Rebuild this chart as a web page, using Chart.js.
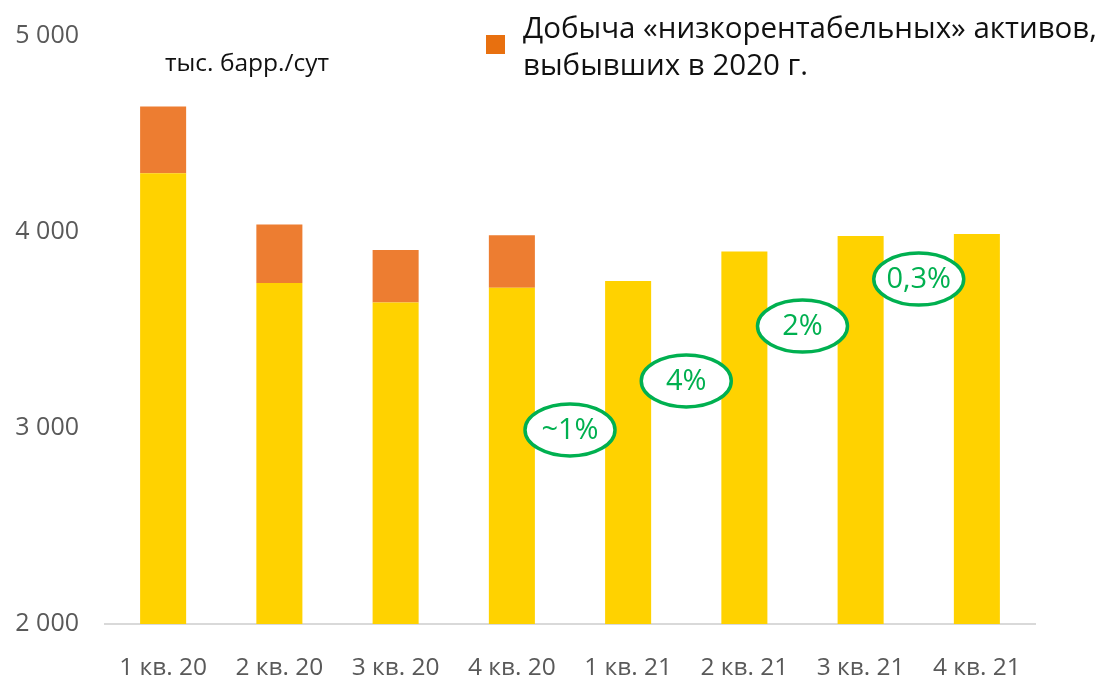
<!DOCTYPE html>
<html lang="ru">
<head>
<meta charset="utf-8">
<script src="https://cdn.jsdelivr.net/npm/chart.js@4/dist/chart.umd.min.js"></script>
<style>
  html, body { margin: 0; padding: 0; background: #fff; }
  #wrap { position: relative; width: 1109px; height: 676px; font-family: "Open Sans", "Noto Sans", sans-serif; }
  #chart { position: absolute; left: 0; top: 0; }
  .unit { position: absolute; left: 165px; top: 44px; font-size: 24.5px; line-height: 36px; color: #111; white-space: nowrap; }
  .legend { position: absolute; left: 486px; top: 8px; }
  .legend .box { position: absolute; left: 0; top: 27px; width: 19px; height: 19px; background: #E8700F; }
  .legend .txt { position: absolute; left: 37px; top: 0; font-size: 29.5px; line-height: 37px; color: #111; white-space: nowrap; }
</style>
</head>
<body>
<div id="wrap">
  <canvas id="chart" width="1109" height="676"></canvas>
  <div class="unit">тыс. барр./сут</div>
  <div class="legend">
    <div class="box"></div>
    <div class="txt">Добыча «низкорентабельных» активов,<br>выбывших в 2020 г.</div>
  </div>
</div>
<script>
// ── Data ──────────────────────────────────────────────────────────
const QUARTERS = ["1 кв. 20", "2 кв. 20", "3 кв. 20", "4 кв. 20", "1 кв. 21", "2 кв. 21", "3 кв. 21", "4 кв. 21"];
const BASE     = [4300, 3740, 3640, 3715, 3750, 3900, 3980, 3990];
const RETIRED  = [340, 298, 268, 268, null, null, null, null];

// growth bubbles sit between quarters (after index GROWTH_AT[i])
const GROWTH_AT     = [3, 4, 5, 6];
const GROWTH_LEVEL  = [2990, 3240, 3520, 3760];
const GROWTH_LABELS = ["~1%", "4%", "2%", "0,3%"];

const Y_TICKS = [2000, 3000, 4000, 5000];

const YELLOW = "#FFD200";
const ORANGE = "#ED7D31";
const GREEN  = "#00B050";
const GREY   = "#595959";
const FONT   = "'Open Sans', 'Noto Sans', sans-serif";

function fmtThousands(v) {
  return String(v).replace(/\B(?=(\d{3})+(?!\d))/g, " ");
}

// ── Growth ellipses ───────────────────────────────────────────────
const growthBubbles = {
  id: "growthBubbles",
  afterDatasetsDraw(chart) {
    const { ctx, scales: { x, y } } = chart;
    ctx.save();
    GROWTH_AT.forEach((idx, i) => {
      const cx = (x.getPixelForValue(idx) + x.getPixelForValue(idx + 1)) / 2;
      const cy = y.getPixelForValue(GROWTH_LEVEL[i]);
      ctx.beginPath();
      ctx.ellipse(cx, cy, 45, 26, 0, 0, Math.PI * 2);
      ctx.fillStyle = "#fff";
      ctx.fill();
      ctx.lineWidth = 3.5;
      ctx.strokeStyle = GREEN;
      ctx.stroke();
      ctx.fillStyle = GREEN;
      ctx.font = "29px " + FONT;
      ctx.textAlign = "center";
      ctx.textBaseline = "middle";
      ctx.fillText(GROWTH_LABELS[i], cx, cy + 1);
    });
    ctx.restore();
  },
};

new Chart(document.getElementById("chart"), {
  type: "bar",
  data: {
    labels: QUARTERS,
    datasets: [
      { label: "base", data: BASE, backgroundColor: YELLOW, borderWidth: 0 },
      { label: "retired", data: RETIRED, backgroundColor: ORANGE, borderWidth: 0 },
    ],
  },
  options: {
    responsive: false,
    animation: false,
    layout: { padding: { top: 36, right: 74, left: 0, bottom: 0 } },
    datasets: { bar: { categoryPercentage: 1, barPercentage: 0.396 } },
    scales: {
      x: {
        stacked: true,
        grid: { display: false },
        border: { display: true, color: "#D9D9D9", width: 2 },
        ticks: { color: GREY, font: { family: FONT, size: 24.5 }, padding: 21, maxRotation: 0 },
        afterFit: (s) => { s.height = 52; },
      },
      y: {
        stacked: true,
        min: 2000,
        max: 5000,
        afterBuildTicks: (s) => { s.ticks = Y_TICKS.map((v) => ({ value: v })); },
        grid: { display: false },
        border: { display: false },
        ticks: { color: GREY, font: { family: FONT, size: 25 }, padding: 18, callback: (v) => fmtThousands(v) },
        afterFit: (s) => { s.width = 105; s.paddingTop = 0; s.paddingBottom = 0; },
      },
    },
    plugins: {
      legend: { display: false },
      tooltip: { enabled: false },
    },
  },
  plugins: [growthBubbles],
});
</script>
</body>
</html>
